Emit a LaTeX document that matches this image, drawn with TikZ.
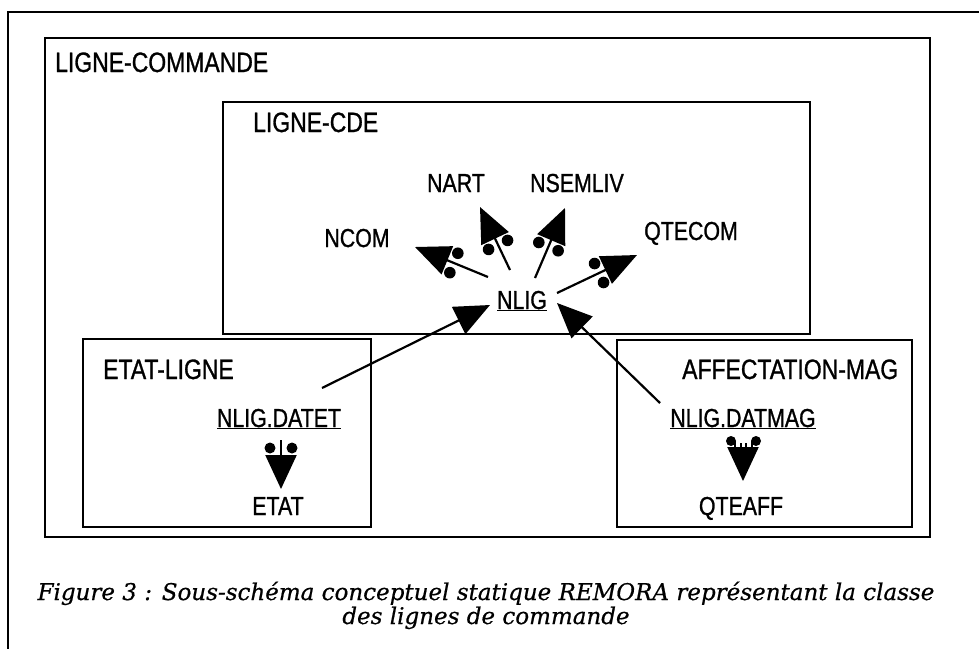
\documentclass[tikz,border=0pt]{standalone}
\usepackage{fontspec}
\newfontfamily\plotfont{Liberation Sans}[FakeStretch=0.82,FakeBold=1]
\newfontfamily\capfont{DejaVu Serif}[FakeBold=0.6]
\usetikzlibrary{arrows.meta,calc}
\newcommand{\dotpair}[2]{%
  \fill ($(#2)!42pt!(#1)!10.5pt!90:(#1)$) circle (5.8pt);
  \fill ($(#2)!42pt!(#1)!10.5pt!-90:(#1)$) circle (5.8pt);}
\tikzset{
  lbl/.style={inner sep=0pt, anchor=base, font=\plotfont\fontsize{26}{30}\selectfont},
  ttl/.style={inner sep=0pt, anchor=base west, font=\plotfont\fontsize{28}{32}\selectfont},
  boxst/.style={draw, line width=2.2pt, inner sep=0pt, outer sep=0pt, anchor=north west},
  arr/.style={line width=2.2pt, -{Triangle[length=35pt,width=30pt]}},
  arrsmall/.style={line width=2.2pt, -{Triangle[length=34pt,width=31pt]}},
  captxt/.style={inner sep=0pt, anchor=base, font=\capfont\itshape\fontsize{23}{27}\selectfont}
}
\begin{document}
\begin{tikzpicture}[x=1pt,y=-1pt]
\useasboundingbox (0,0) rectangle (979,649);
% outer page frame
\draw[line width=1.8pt] (979,12) -- (8,12) -- (8,649);
% boxes
\node[boxst, minimum width=885pt, minimum height=499pt] (lcbox) at (45,38) {};
\node[boxst, minimum width=587pt, minimum height=232pt] (cdebox) at (223,102) {};
\node[boxst, minimum width=288pt, minimum height=188pt] (etbox) at (83,339) {};
\node[boxst, minimum width=295pt, minimum height=187pt] (afbox) at (617,340) {};
% titles
\node[ttl] (lc) at (55,72) {LIGNE-COMMANDE};
\node[ttl] (lcde) at (253,132) {LIGNE-CDE};
\node[ttl] (etl) at (103,379) {ETAT-LIGNE};
\node[ttl] (afm) at (682,379) {AFFECTATION-MAG};
% attribute labels
\node[lbl] (nart) at (456,192) {NART};
\node[lbl] (nsemliv) at (577,192) {NSEMLIV};
\node[lbl] (ncom) at (357,247) {NCOM};
\node[lbl] (qtecom) at (691,240) {QTECOM};
\node[lbl] (nlig) at (522,309) {\underline{NLIG}};
\node[lbl] (datet) at (279,427) {\underline{NLIG.DATET}};
\node[lbl] (etat) at (278,515) {ETAT};
\node[lbl] (datmag) at (743,427) {\underline{NLIG.DATMAG}};
\node[lbl] (qteaff) at (741,515) {QTEAFF};
% connector end points
\coordinate (s-ncom) at (488,277);  \coordinate (t-ncom) at (415,247);
\coordinate (s-nart) at (510,270);  \coordinate (t-nart) at (480,207);
\coordinate (s-nsem) at (535,278);  \coordinate (t-nsem) at (565,208);
\coordinate (s-qtec) at (557,293);  \coordinate (t-qtec) at (637,255);
\coordinate (s-datet) at (322,388); \coordinate (t-datet) at (490,305);
\coordinate (s-datmag) at (660,403); \coordinate (t-datmag) at (557,303);
\coordinate (s-etat) at (281,440);  \coordinate (t-etat) at (281,489);
\coordinate (s-qteaff) at (743,447); \coordinate (t-qteaff) at (743,481);
% arrows from NLIG
\draw[arr] (s-ncom) -- (t-ncom);
\draw[arr] (s-nart) -- (t-nart);
\draw[arr] (s-nsem) -- (t-nsem);
\draw[arr] (s-qtec) -- (t-qtec);
\dotpair{s-ncom}{t-ncom}
\dotpair{s-nart}{t-nart}
\dotpair{s-nsem}{t-nsem}
\dotpair{s-qtec}{t-qtec}
% arrows into NLIG
\draw[arr] (s-datet) -- (t-datet);
\draw[arr] (s-datmag) -- (t-datmag);
% ETAT-LIGNE arrow
\draw[arrsmall] (s-etat) -- (t-etat);
\fill (270,448) circle (5.5pt);
\fill (292,448) circle (5.5pt);
% AFFECTATION-MAG arrow
\draw[arrsmall] (s-qteaff) -- (t-qteaff);
\fill (731,441) circle (5pt);
\fill (756,441) circle (5pt);
\draw[line width=1.5pt] (735,441) -- (735,449) (752,441) -- (752,449);
\draw[line width=1.5pt] (741,443) -- (741,449) (746,443) -- (746,449);
% caption
\node[captxt] (cap1) at (486,600) {Figure 3 : Sous-schéma conceptuel statique REMORA représentant la classe};
\node[captxt] (cap2) at (486,624) {des lignes de commande};
\end{tikzpicture}
\end{document}
